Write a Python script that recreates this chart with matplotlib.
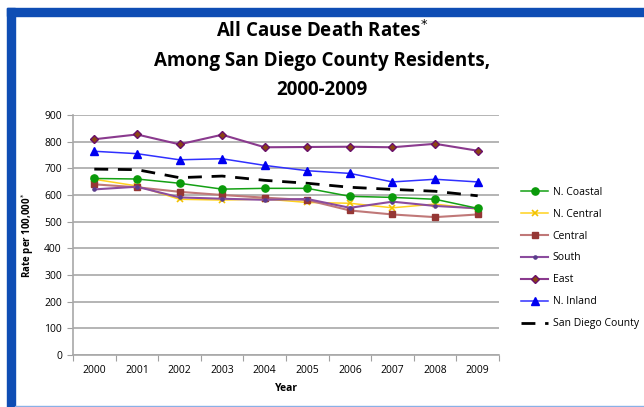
import matplotlib
matplotlib.use("Agg")
import matplotlib.pyplot as plt
from matplotlib.patches import Rectangle

years = ["2000", "2001", "2002", "2003", "2004", "2005", "2006", "2007", "2008", "2009"]
n_coastal = [662, 660, 644, 622, 625, 625, 595, 591, 584, 550]
n_central = [659, 634, 584, 581, 585, 572, 569, 552, 566, 547]
central = [640, 629, 612, 600, 590, 581, 542, 527, 517, 527]
south = [621, 631, 591, 586, 582, 585, 552, 575, 559, 550]
east = [809, 827, 790, 826, 779, 780, 781, 779, 792, 766]
n_inland = [764, 755, 732, 736, 711, 691, 681, 649, 659, 649]
san_diego = [697, 695, 665, 671, 655, 644, 629, 621, 614, 597]

FONT = ["Open Sans", "DejaVu Sans"]
plt.rcParams["font.family"] = FONT

fig = plt.figure(figsize=(6.44, 4.07), dpi=100)
W, H = 644, 407

# frame around the slide
fig.patches.append(Rectangle((7 / W, 0), 8 / W, 1 - 8 / H, transform=fig.transFigure,
                             color="#0E4DB4", zorder=0))
fig.patches.append(Rectangle((7 / W, 1 - 16 / H), 1 - 7 / W, 8 / H, transform=fig.transFigure,
                             color="#0E4DB4", zorder=0))
fig.patches.append(Rectangle((15 / W, 0), 1 - 15 / W, 1.5 / H, transform=fig.transFigure,
                             color="#8AB0E6", zorder=0))

ax = fig.add_axes([73 / W, 1 - 355 / H, 426 / W, 240 / H])
x = [i + 0.5 for i in range(len(years))]

ax.plot(x, n_coastal, color="#14A014", lw=1.1, marker="o", ms=5.2,
        mfc="#0A9A0A", mec="#0A9A0A", label="N. Coastal", zorder=5)
ax.plot(x, n_central, color="#FFD21E", lw=1.1, marker="x", ms=5, mew=1.2,
        mec="#F2C200", label="N. Central", zorder=4)
ax.plot(x, central, color="#C07878", lw=1.5, marker="s", ms=5,
        mfc="#953735", mec="#953735", label="Central", zorder=4)
ax.plot(x, south, color="#8B4C9E", lw=1.5, marker="o", ms=2.3,
        mfc="#5A3C8C", mec="#5A3C8C", label="South", zorder=4)
ax.plot(x, east, color="#8A3A8E", lw=1.5, marker="D", ms=4,
        mfc="#8B4513", mec="#6A0F6A", mew=1.0, label="East", zorder=4)
ax.plot(x, n_inland, color="#3030FF", lw=1.1, marker="^", ms=5.8,
        mfc="#0000F0", mec="#0000F0", label="N. Inland", zorder=4)
ax.plot(x, san_diego, color="black", lw=2.0, dashes=(5, 3.5),
        label="San Diego County", zorder=3)

ax.set_xlim(0, len(years))
ax.set_ylim(0, 900)
ax.set_yticks(range(0, 901, 100))
ax.set_xticks(range(len(years) + 1))
ax.set_xticklabels([])
ax.set_xticks(x, minor=True)
ax.set_xticklabels(years, minor=True)
ax.tick_params(axis="x", which="minor", length=0, pad=7, labelsize=7.5)
ax.tick_params(axis="x", which="major", length=4, direction="out", color="#A0A0A0")
ax.tick_params(axis="y", length=4, direction="out", color="#A0A0A0", labelsize=7.5, pad=4)
ax.grid(axis="y", color="#A8A8A8", lw=1.2)
ax.set_axisbelow(True)
for side in ("top", "right"):
    ax.spines[side].set_visible(False)
for side in ("left", "bottom"):
    ax.spines[side].set_color("#A8A8A8")
    ax.spines[side].set_linewidth(1.2)

ax.set_xlabel("Year", fontsize=7.5, fontweight="bold", labelpad=5)
ax.set_ylabel("Rate per 100,000$^{*}$", fontsize=7, fontweight="bold", labelpad=6)

fig.text(322 / W, 1 - 31 / H, "All Cause Death Rates$^{*}$", ha="center", va="center",
         fontsize=13.5, fontweight="bold")
fig.text(322 / W, 1 - 61 / H, "Among San Diego County Residents,", ha="center", va="center",
         fontsize=13.5, fontweight="bold")
fig.text(322 / W, 1 - 90 / H, "2000-2009", ha="center", va="center",
         fontsize=13.5, fontweight="bold")

handles, labels = ax.get_legend_handles_labels()
fig.legend(handles, labels, loc="center left", bbox_to_anchor=(512 / W, 1 - 258 / H),
           frameon=False, fontsize=7.5, handlelength=2.6, labelspacing=1.05,
           handletextpad=0.4)

fig.savefig("out.png", dpi=100)
